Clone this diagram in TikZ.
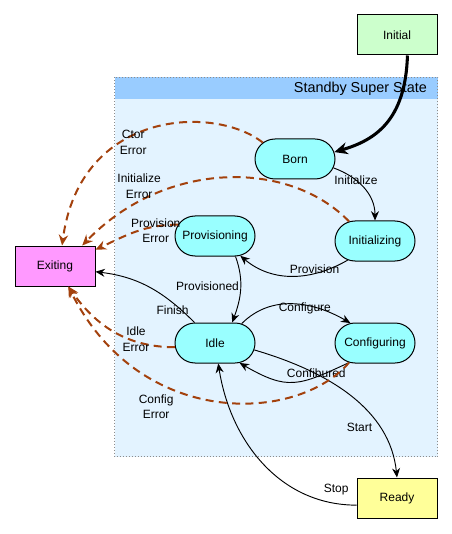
\documentclass[tikz,border=0pt]{standalone}
\usepackage{fontspec}
\setmainfont{Liberation Sans}
\usetikzlibrary{arrows.meta,shapes.misc}
\pgfdeclarelayer{background}
\pgfsetlayers{background,main}
\definecolor{initgreen}{HTML}{CCFFCC}
\definecolor{statecyan}{HTML}{99FFFF}
\definecolor{exitpink}{HTML}{FF99FF}
\definecolor{readyyellow}{HTML}{FFFF99}
\definecolor{superbody}{HTML}{E3F3FF}
\definecolor{superhead}{HTML}{99CCFF}
\definecolor{errorbrown}{HTML}{A3410D}
\tikzstyle{estado}=[draw, line width=0.75pt, fill=statecyan, rounded rectangle,
  minimum width=60pt, minimum height=30pt, inner sep=0pt]
\tikzstyle{pseudo}=[draw, line width=0.75pt, rectangle, minimum width=60pt,
  minimum height=30pt, inner sep=0pt]
\tikzstyle{texto}=[align=center, inner sep=1pt, text=black]
\tikzstyle{line}=[draw, line width=0.7pt, color=black,
  -{Stealth[length=7pt,width=6pt]}]
\tikzstyle{linepart}=[draw, line width=1.5pt, color=errorbrown,
  dash pattern=on 6pt off 4pt, -{Stealth[length=8pt,width=7pt]}]
\tikzstyle{linethick}=[draw, line width=2.3pt, color=black,
  -{Stealth[length=10pt,width=9pt]}]
\newcommand{\statelayer}[3]{node (#1) [#2] {\makebox[0pt]{#3}}}
\newcommand{\superstate}[5]{%
  \begin{pgfonlayer}{background}
    % Left-top corner of the super state
    \path (#1.west |- #2.north)+(-60,-61) coordinate (s1);
    % Right-bottom corner of the super state
    \path (#3.east |- #4.south)+(0,93) coordinate (s2);
    % Bottom of the title band
    \path (s2 |- s1)+(0,22) coordinate (s3);
    \path[fill=superbody] (s1) rectangle (s2);
    \path[fill=superhead] (s1) rectangle (s3);
    \path[draw=black!45, line width=0.75pt, dash pattern=on 0.75pt off 1.5pt]
      (s1) rectangle (s2);
    \path (s3)+(-6,-11) node (SUPERTITLE)
      [anchor=east, font=\fontsize{10.8}{13}\selectfont] {#5};
  \end{pgfonlayer}}

\begin{document}
\begin{tikzpicture}[x=0.75pt,y=-0.75pt,font=\fontsize{9}{11.5}\selectfont]
  \useasboundingbox (0,0) rectangle (452,534);

  % Draw diagram elements
  \path (397,35) \statelayer{INITIAL}{pseudo, fill=initgreen}{Initial};
  \path (INITIAL)+(-102,124) \statelayer{BORN}{estado}{Born};
  \path (BORN)+(80,82) \statelayer{INITIALIZING}{estado}{Initializing};
  \path (INITIALIZING)+(-160,-5) \statelayer{PROVISIONING}{estado}{Provisioning};
  \path (PROVISIONING)+(0,107) \statelayer{IDLE}{estado}{Idle};
  \path (IDLE)+(160,0) \statelayer{CONFIGURING}{estado}{Configuring};
  \path (CONFIGURING)+(22,155) \statelayer{READY}{pseudo, fill=readyyellow}{Ready};
  \path (PROVISIONING)+(-160,30) \statelayer{EXITING}{pseudo, fill=exitpink}{Exiting};

  % Draw arrows between elements
  \path [linethick] (INITIAL.-63) .. controls +(-2,65) and +(41,-12) .. (BORN.10);
  \path [line] (BORN.-13) to[out=-20,in=90]
    node [texto, pos=0.3, xshift=2pt, yshift=-1.5pt] {Initialize} (INITIALIZING.north);
  \path [line] (INITIALIZING.215) to[out=-150,in=-40]
    node [texto, pos=0.3, yshift=3.4pt] {Provision} (PROVISIONING.-38);
  \path [line] (PROVISIONING.-45) to[out=-70,in=70]
    node [texto, pos=0.45, left] {Provisioned} (IDLE.50);
  \path [line] (IDLE.36) to[out=45,in=150]
    node [texto, pos=0.6, yshift=-2pt] {Configure} (CONFIGURING.141);
  \path [line] (CONFIGURING.217) to[out=-155,in=-30,looseness=1.3]
    node [texto, pos=0.28, xshift=1.5pt, yshift=3pt] {Confibured} (IDLE.-39);
  \path [line] (IDLE.-10) .. controls +(75,22) and +(-7,-68) ..
    node [texto, pos=0.72, left=4pt] {Start} (READY.north);
  \path [line] (READY.190) .. controls +(-77,0) and +(12,77) ..
    node [texto, pos=0.1, xshift=1.5pt, yshift=10.5pt] {Stop} (IDLE.-81);
  \path [line] (IDLE.135) to[out=135,in=-7]
    node [texto, pos=0.2, xshift=-3pt, yshift=-3pt] {Finish} (EXITING.-8);

  % error transitions
  \path [linepart] (BORN.153) .. controls +(-48,-38) and +(18,-136) ..
    node [texto, pos=0.6, xshift=5pt, yshift=-2pt] {Ctor\\Error} (EXITING.71);
  \path [linepart] (INITIALIZING.143) .. controls +(-60,-62) and +(83,-86) ..
    node [texto, pos=0.78, xshift=-2pt, yshift=11pt] {Initialize\\Error} (EXITING.37);
  \path [linepart] (PROVISIONING.163) to[out=180,in=25]
    node [texto, pos=0.2, xshift=-2.7pt, yshift=-3.6pt] {Provision\\Error} (EXITING.22);
  \path [linepart] (IDLE.186) to[out=180,in=-55]
    node [texto, pos=0.3, yshift=1.8pt] {Idle\\Error} (EXITING.-57);
  \path [linepart] (CONFIGURING.217) .. controls +(-51,60) and +(72,144) ..
    node [texto, pos=0.68, xshift=-1pt, yshift=-19pt] {Config\\Error} (EXITING.-57);

  % super state background
  \superstate{PROVISIONING}{BORN}{INITIAL}{IDLE}{Standby Super State}

\end{tikzpicture}
\end{document}
